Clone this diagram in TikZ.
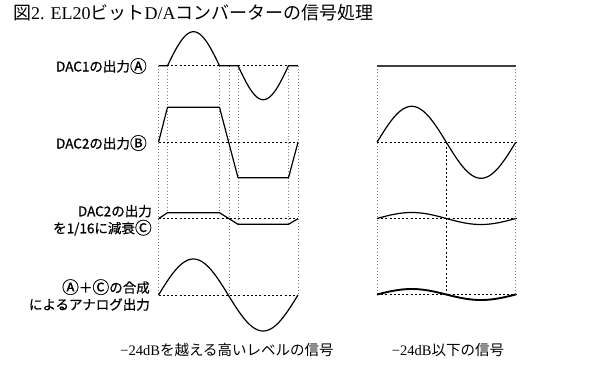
\documentclass[tikz,border=0pt]{standalone}
\usepackage{fontspec}
\newfontfamily\jp{Noto Sans CJK JP}
\newfontfamily\jpb[FakeBold=0.6]{Noto Sans CJK JP}
\newfontfamily\ser{Liberation Serif}
\newcommand{\circL}[1]{\raisebox{-0.9pt}{\scalebox{1.25}{#1}}}
\begin{document}
\begin{tikzpicture}[x=1pt,y=-1pt,
  sig/.style={line width=1.2pt,line join=round},
  thicksig/.style={line width=1.9pt,line join=round},
  topline/.style={line width=2pt,black!75},
  base/.style={line width=0.9pt,dash pattern=on 2pt off 2.2pt},
  guide/.style={line width=0.7pt,black!50,dash pattern=on 0.8pt off 2.4pt},
  lab/.style={font=\jpb\fontsize{13.5}{17}\selectfont,anchor=east,inner sep=0,align=right},
  capnote/.style={inner sep=0,font=\fontsize{14.5}{15}\selectfont},
]
\useasboundingbox (0,0) rectangle (600,370);
% title
\node[anchor=west,inner sep=0,font=\fontsize{18}{18}\selectfont] (title) at (13,13)
  {\jp 図\ser 2. EL20\jp ビット\ser D/A\jp コンバーターの信号処理};
% ---------- left panel ----------
\def\xa{158.5}\def\xb{167.5}\def\xc{219.5}\def\xd{229}\def\xe{238}\def\xf{288.5}\def\xg{298}
\def\yA{65.7}\def\yB{142.3}\def\yC{218.7}\def\yD{295}
% guides
\draw[guide] (\xa,\yA) -- (\xa,\yD);
\draw[guide] (\xb,\yA) -- (\xb,212.7);
\draw[guide] (\xc,\yA) -- (\xc,212.7);
\draw[guide] (\xd,\yA) -- (\xd,\yD);
\draw[guide] (\xe,\yA) -- (\xe,224.3);
\draw[guide] (\xf,\yA) -- (\xf,224.3);
\draw[guide] (\xg,\yA) -- (\xg,\yD);
% baselines
\draw[base] (\xa,\yA) -- (\xg,\yA);
\draw[base] (\xa,\yB) -- (\xg,\yB);
\draw[base] (\xa,\yC) -- (\xg,\yC);
\draw[base] (\xa,\yD) -- (\xg,\yD);
% DAC1
\draw[sig] (\xa,\yA) -- (\xb,\yA)
  -- plot[domain=0:180,samples=40] ({\xb+\x/180*52},{\yA-34*sin(\x)})
  -- (\xe,\yA)
  -- plot[domain=0:180,samples=40] ({\xe+\x/180*50.5},{\yA+34*sin(\x)})
  -- (\xg,\yA);
% DAC2
\draw[sig] (\xa,\yB) -- (\xb,107.3) -- (\xc,107.3) -- (\xe,177.7) -- (\xf,177.7) -- (\xg,\yB);
% DAC2 / 16
\draw[sig] (\xa,\yC) -- (\xb,212.7) -- (\xc,212.7) -- (\xe,224.3) -- (\xf,224.3) -- (\xg,\yC);
% combined
\draw[sig] plot[domain=0:360,samples=80] ({\xa+\x/360*139.5},{\yD-36*sin(\x)});
% labels
\node[lab] (lA) at (147,66) {DAC1の出力\circL{Ⓐ}};
\node[lab] (lB) at (147,143) {DAC2の出力\circL{Ⓑ}};
\node[lab] (lC) at (152,220.3) {DAC2の出力\\を1/16に減衰\circL{Ⓒ}};
\node[lab] (lD) at (150,295) {\circL{Ⓐ}＋\circL{Ⓒ}の合成\\によるアナログ出力};
% ---------- right panel ----------
\def\xl{377}\def\xm{446.3}\def\xr{515.7}
\def\rA{66}\def\rB{142.3}\def\rC{218.5}\def\rD{294.5}
\draw[guide] (\xl,\rA) -- (\xl,\rD);
\draw[guide] (\xr,\rA) -- (\xr,\rD);
\draw[base] (\xm,\rB) -- (\xm,\rD);
\draw[base] (\xl,\rB) -- (\xr,\rB);
\draw[base] (\xl,\rC) -- (\xr,\rC);
\draw[base] (\xl,\rD) -- (\xr,\rD);
\draw[topline] (\xl,\rA) -- (\xr,\rA);
\draw[sig] plot[domain=0:360,samples=80] ({\xl+\x/360*138.7},{\rB-36*sin(\x)});
\draw[sig] plot[domain=0:360,samples=60] ({\xl+\x/360*138.7},{\rC-6*sin(\x)});
\draw[thicksig] plot[domain=0:360,samples=60] ({\xl+\x/360*138.7},{\rD-5.5*sin(\x)});
% captions
\node[capnote] (cap1) at (227,350) {\ser −24dB\jp を越える高いレベルの信号};
\node[capnote] (cap2) at (448,350) {\ser −24dB\jp 以下の信号};
\end{tikzpicture}
\end{document}
